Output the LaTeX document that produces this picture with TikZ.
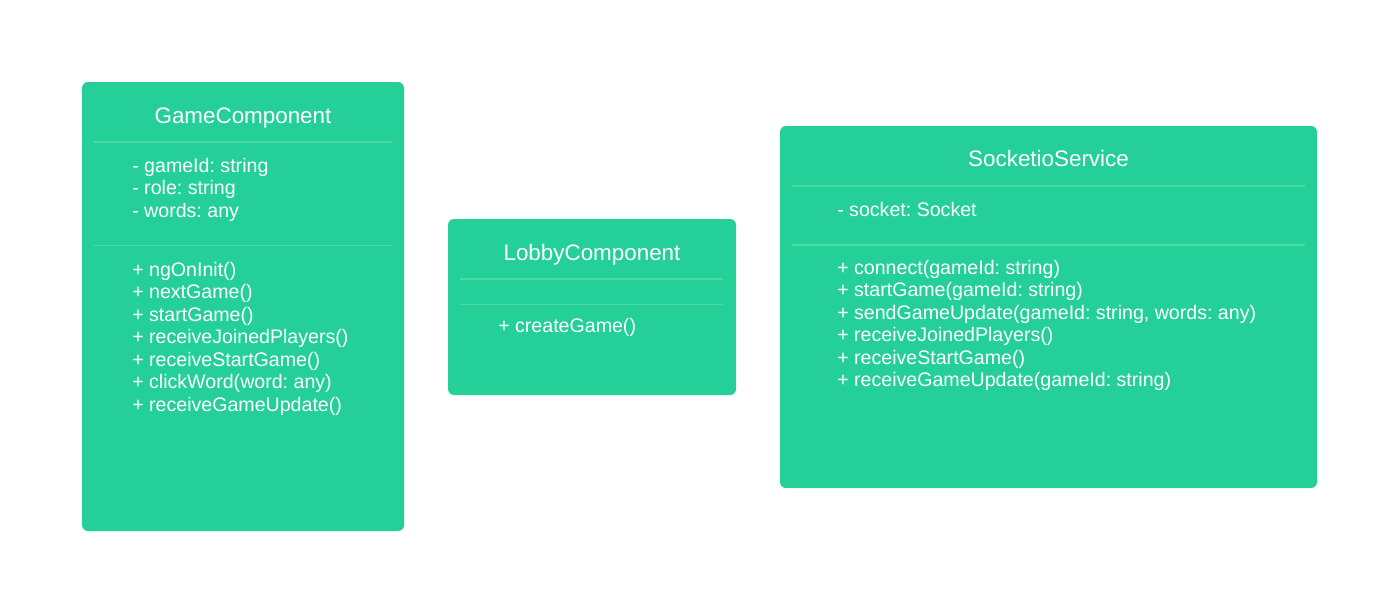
\documentclass[tikz,border=0pt]{standalone}
\usepackage{fontspec}
\setmainfont{Liberation Sans}
\frenchspacing

\definecolor{boxgreen}{HTML}{24D097}
\definecolor{linegreen}{HTML}{4ADAA6}

\tikzset{
    classbox/.style={fill=boxgreen, rounded corners=4.5pt},
    divider/.style={draw=linegreen, line width=0.8pt},
    classname/.style={text=white, inner sep=0pt, anchor=base, font=\fontsize{16.8}{20}\selectfont},
    member/.style={text=white, inner sep=0pt, anchor=base west, font=\fontsize{14.7}{17}\selectfont}
}

\begin{document}
\begin{tikzpicture}[x=0.75pt,y=-0.75pt]
        \useasboundingbox (0,0) rectangle (1399,614);

        % GameComponent
        \fill[classbox] (82,82) rectangle (404,531);
        \node[classname] (gameName) at (243,123.5) {GameComponent};
        \draw[divider] (93,142) -- (392,142);
        \draw[divider] (93,245.5) -- (392,245.5);
        \foreach \txt [count=\i] in {- gameId: string, - role: string, - words: any}
            {\node[member] (gameAttr\i) at (132,{149.5+22.5*\i}) {\txt};}
        \foreach \txt [count=\i] in {+ ngOnInit(), + nextGame(), + startGame(), + receiveJoinedPlayers(), + receiveStartGame(), {+ clickWord(word: any)}, + receiveGameUpdate()}
            {\node[member] (gameOp\i) at (132,{253.5+22.5*\i}) {\txt};}

        % LobbyComponent
        \fill[classbox] (448,219) rectangle (736,395);
        \node[classname] (lobbyName) at (592,260.5) {LobbyComponent};
        \draw[divider] (460,279) -- (723,279);
        \draw[divider] (460,304.5) -- (723,304.5);
        \node[member] (lobbyOp1) at (498,332.5) {+ createGame()};

        % SocketioService
        \fill[classbox] (780,126) rectangle (1317,488);
        \node[classname] (socketName) at (1048.5,166.5) {SocketioService};
        \draw[divider] (792,186) -- (1305,186);
        \draw[divider] (792,245) -- (1305,245);
        \node[member] (socketAttr1) at (837,216) {- socket: Socket};
        \foreach \txt [count=\i] in {{+ connect(gameId: string)}, {+ startGame(gameId: string)}, {+ sendGameUpdate(gameId: string, words: any)}, + receiveJoinedPlayers(), + receiveStartGame(), {+ receiveGameUpdate(gameId: string)}}
            {\node[member] (socketOp\i) at (837,{251.5+22.5*\i}) {\txt};}
    \end{tikzpicture}
\end{document}
